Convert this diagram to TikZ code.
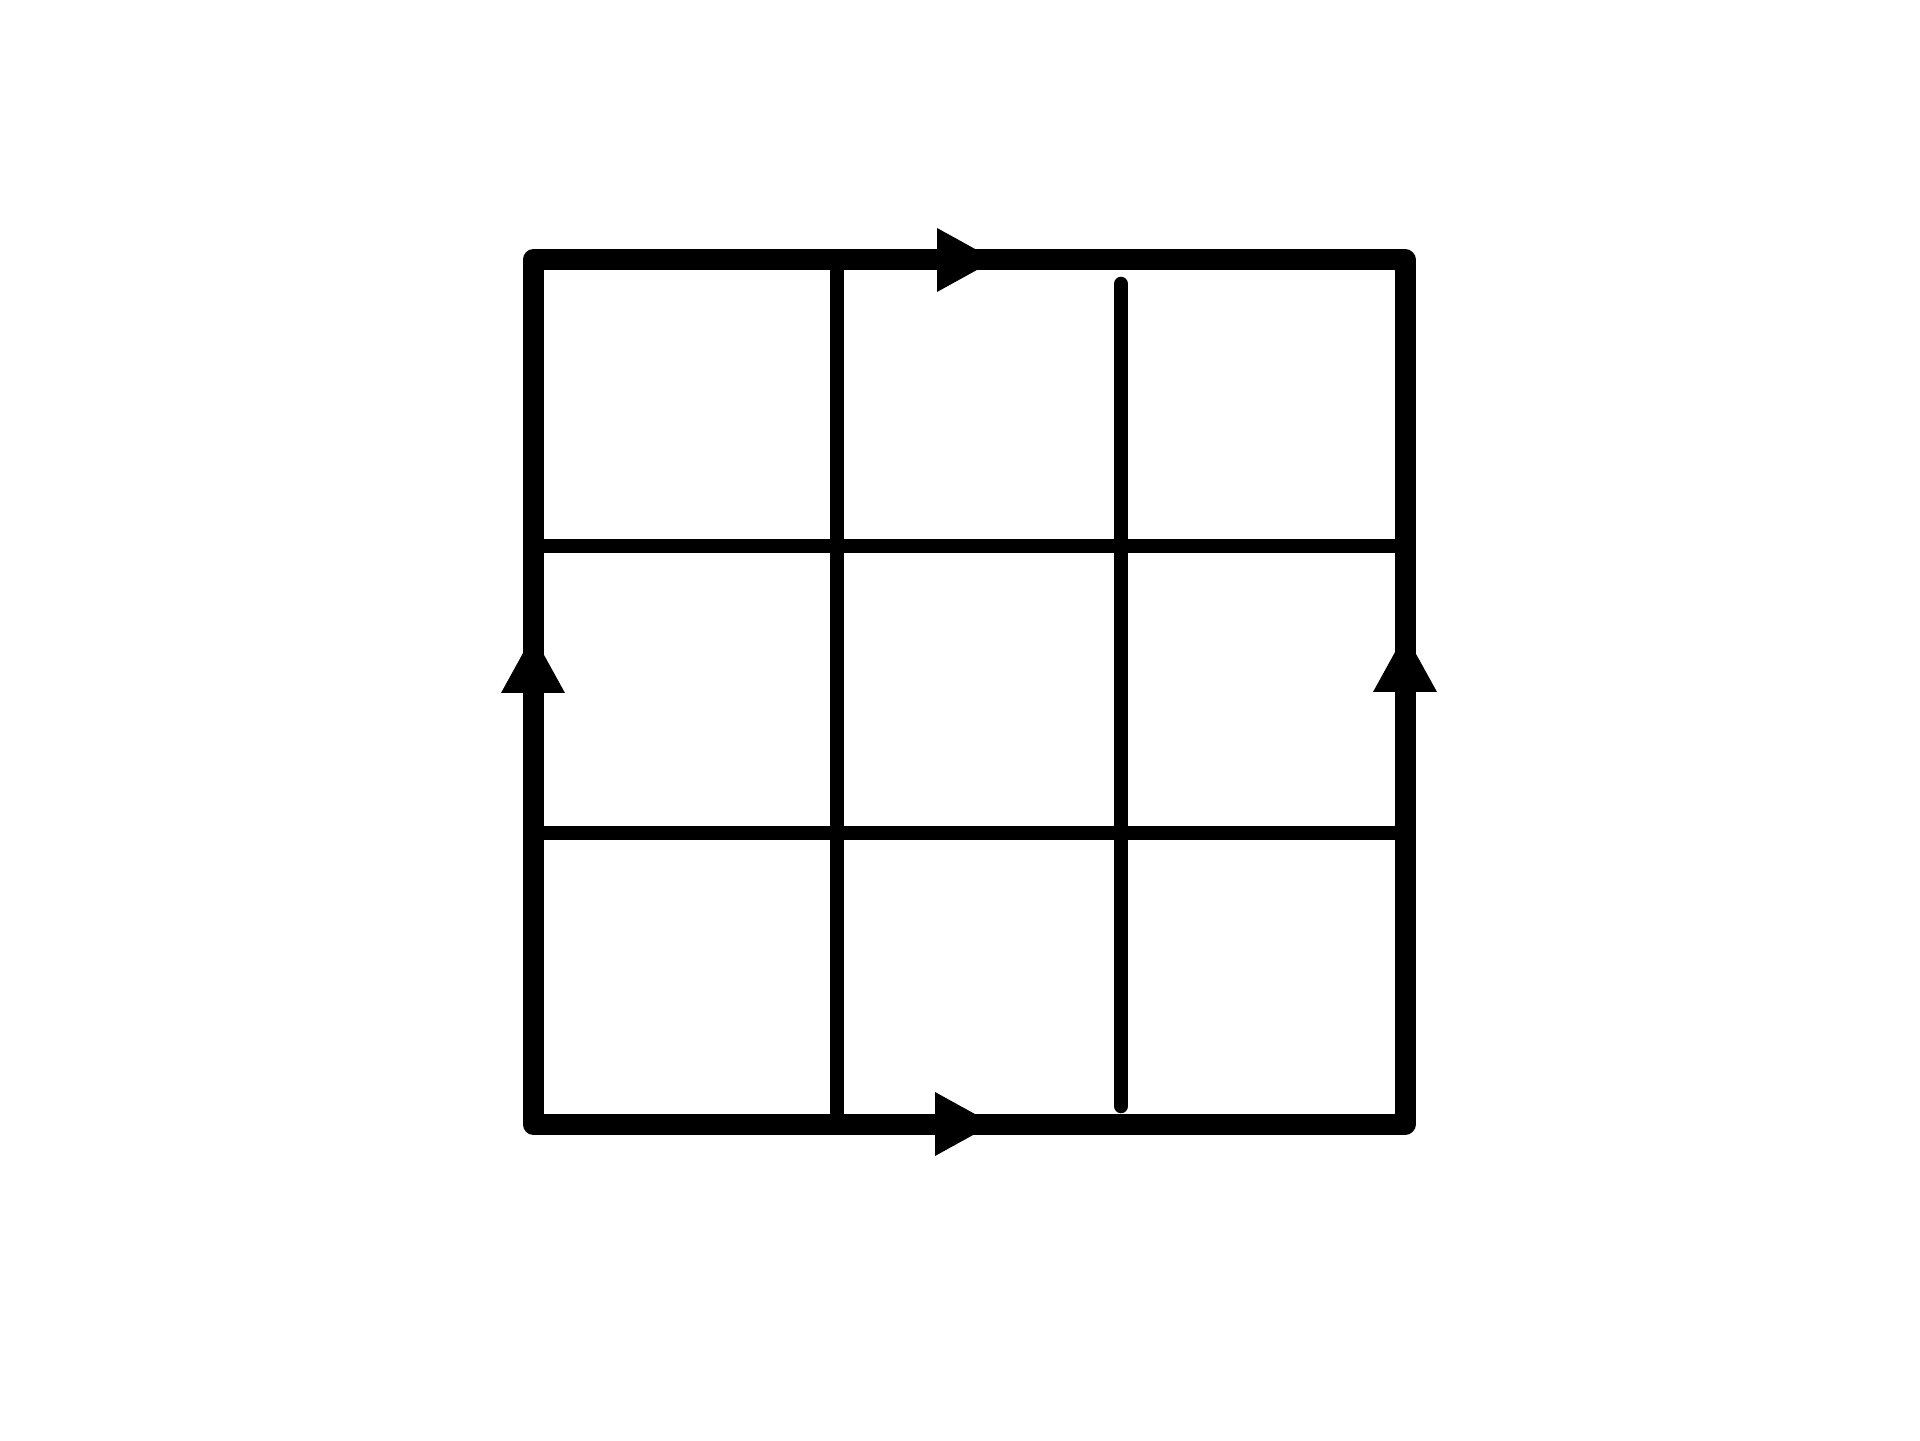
\documentclass[tikz,border=0pt]{standalone}
\usepackage{tikz}
\usetikzlibrary{arrows.meta,positioning,calc}

\begin{document}
\begin{tikzpicture}[
    frame/.style = {draw=black, line width=0.21cm, line join=round},
    cut/.style = {draw=black, line width=0.145cm, line cap=round},
    glue/.style = {draw=black, line width=0.21cm, -{Triangle[length=0.58cm, width=0.64cm, line width=0pt]}}
]
    \useasboundingbox (0,0) rectangle (19.2,14.4);
    % Corners of the square
    \coordinate (sw) at (5.33,3.16);
    \coordinate (se) at (14.05,3.16);
    \coordinate (ne) at (14.05,11.80);
    \coordinate (nw) at (5.33,11.80);
    % Arrow tips on the sides
    \coordinate (toptip) at (9.95,11.80);
    \coordinate (bottip) at (9.93,3.16);
    \coordinate (lefttip) at (5.33,8.05);
    \coordinate (righttip) at (14.05,8.06);
    % Ends of the inner lines
    \coordinate (h1w) at (5.33,8.94);
    \coordinate (h1e) at (14.05,8.94);
    \coordinate (h2w) at (5.33,6.07);
    \coordinate (h2e) at (14.05,6.07);
    \coordinate (v1n) at (8.37,11.80);
    \coordinate (v1s) at (8.37,3.16);
    \coordinate (v2n) at (11.21,11.56);
    \coordinate (v2s) at (11.21,3.34);
    % Inner lines
    \draw[cut] (h1w) -- (h1e);
    \draw[cut] (h2w) -- (h2e);
    \draw[cut] (v1n) -- (v1s);
    \draw[cut] (v2n) -- (v2s);
    % Square
    \draw[frame] (sw) -- (se) -- (ne) -- (nw) -- cycle;
    % Arrows
    \draw[glue] (nw) -- (toptip);
    \draw[glue] (sw) -- (bottip);
    \draw[glue] (sw) -- (lefttip);
    \draw[glue] (se) -- (righttip);
\end{tikzpicture}
\end{document}
